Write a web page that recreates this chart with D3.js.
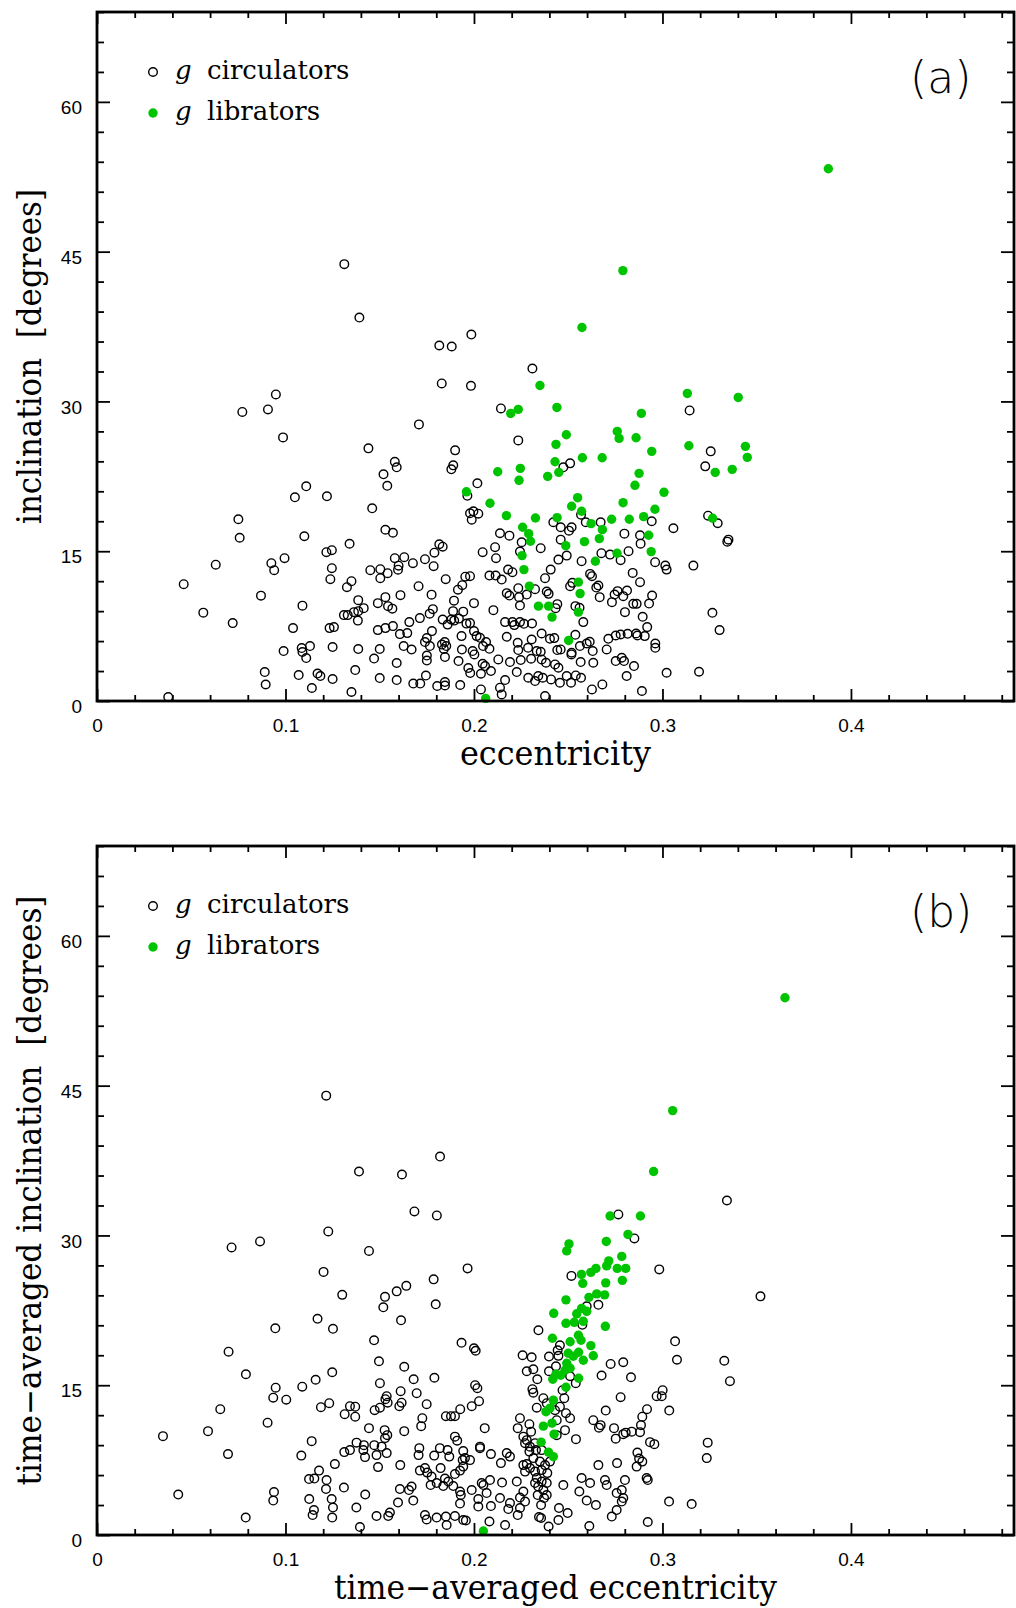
<!DOCTYPE html>
<html>
<head>
<meta charset="utf-8">
<script src="https://cdn.jsdelivr.net/npm/d3@7"></script>
<style>
  html, body { margin: 0; padding: 0; background: #fff; }
  svg { display: block; }
</style>
</head>
<body>
<svg id="chart"></svg>
<script>
// ---- data: [eccentricity, inclination] ----

// panel (a): osculating elements
var circA = [
  [0.0771,28.95],[0.0907,29.2],[0.1708,27.7],[0.0987,26.4],[0.144,25.3],[0.190,25.1],[0.158,23.95],[0.159,23.4],
  [0.189,23.6],[0.188,23.2],[0.152,22.7],[0.154,21.55],[0.1965,20.55],[0.111,21.5],[0.105,20.4],[0.122,20.5],
  [0.146,19.3],[0.075,18.2],[0.0757,16.35],[0.110,16.5],[0.134,15.75],[0.153,17.15],[0.157,16.85],[0.063,13.65],
  [0.046,11.7],[0.0564,8.85],[0.072,7.8],[0.087,10.55],[0.0925,13.8],[0.094,13.1],[0.0995,14.3],[0.109,9.55],
  [0.104,7.3],[0.099,5.0],[0.1086,5.3],[0.109,4.9],[0.113,5.5],[0.111,4.3],[0.089,2.9],[0.0895,1.65],
  [0.0378,0.4],[0.107,2.6],[0.117,2.75],[0.1185,2.5],[0.125,2.2],[0.114,1.3],[0.135,0.9],[0.137,3.1],
  [0.125,5.4],[0.1234,7.3],[0.1257,7.4],[0.1217,14.9],[0.1246,15.1],[0.1246,13.3],[0.1238,12.2],[0.1326,11.4],
  [0.135,12.0],[0.131,8.6],[0.133,8.6],[0.1363,8.9],[0.1386,9.0],[0.1415,9.3],[0.1386,10.1],[0.1384,8.05],
  [0.1386,5.2],[0.150,5.2],[0.147,4.25],[0.150,2.3],[0.159,2.1],[0.159,3.8],[0.149,9.8],[0.153,10.4],
  [0.1544,9.5],[0.1567,9.25],[0.145,13.1],[0.1503,13.2],[0.1503,12.3],[0.1542,12.8],[0.158,14.3],[0.163,14.4],
  [0.160,13.55],[0.1597,13.15],[0.1676,13.8],[0.174,14.2],[0.1786,13.5],[0.179,14.85],[0.1816,15.7],[0.1834,15.45],
  [0.161,10.6],[0.1706,11.5],[0.1775,10.65],[0.1782,9.2],[0.1765,8.75],[0.1713,8.3],[0.1657,7.9],[0.149,7.1],
  [0.153,7.3],[0.157,7.5],[0.1607,6.7],[0.1646,6.8],[0.1627,5.5],[0.1669,5.15],[0.175,6.3],[0.1777,7.0],
  [0.174,5.9],[0.1766,5.5],[0.175,4.55],[0.175,4.05],[0.1745,2.55],[0.183,5.65],[0.1845,5.9],[0.1853,5.5],
  [0.184,5.2],[0.1846,4.4],[0.185,12.2],[0.1894,10.05],[0.1889,9.0],[0.188,8.15],[0.1915,11.15],[0.1938,11.6],
  [0.1954,12.45],[0.1834,8.15],[0.186,7.65],[0.1895,8.05],[0.192,8.25],[0.1943,8.95],[0.196,7.75],[0.1934,6.5],
  [0.1936,5.15],[0.1918,4.0],[0.197,3.3],[0.1927,1.6],[0.1678,1.75],[0.1715,1.75],[0.1805,1.5],[0.1846,1.55],
  [0.1846,1.9],
  [0.1312,43.75],[0.1392,38.4],[0.1816,35.6],[0.1882,35.5],[0.1986,36.7],[0.1829,31.8],[0.0949,30.7],
  [0.231,33.3],[0.1984,31.56],[0.2143,29.3],[0.2235,26.1],[0.3144,29.1],[0.3256,25.0],[0.3227,23.5],[0.251,23.8],
  [0.2474,23.4],[0.2018,21.8],[0.1997,19.0],[0.2023,18.76],[0.1979,18.8],[0.1988,18.16],[0.2568,18.66],[0.2593,17.9],
  [0.2421,17.9],[0.246,17.4],[0.2504,17.06],[0.2518,17.4],[0.2672,17.9],[0.2943,18.0],[0.3058,17.3],[0.3242,18.56],
  [0.3293,17.8],[0.335,16.16],[0.3344,15.96],[0.2138,16.8],[0.2188,16.56],[0.246,16.16],[0.2354,15.3],[0.2253,15.9],
  [0.2244,14.96],[0.2112,15.4],[0.2117,14.3],[0.2046,14.9],[0.2492,14.56],[0.2448,14.16],[0.2798,16.76],[0.282,15.0],
  [0.2881,16.6],[0.2884,15.76],[0.2676,14.8],[0.2722,14.66],[0.2778,14.1],[0.2571,14.0],[0.2961,13.9],[0.3015,13.56],
  [0.3022,13.16],[0.3164,13.56],[0.2082,12.56],[0.2115,12.56],[0.2147,12.16],[0.2181,13.16],[0.2204,12.9],[0.1979,12.5],
  [0.2,9.8],[0.2407,13.16],[0.2377,12.3],[0.251,11.5],[0.2522,11.83],[0.2616,12.73],[0.2626,12.5],[0.266,11.56],
  [0.2649,11.36],[0.2174,10.8],[0.2188,10.56],[0.2235,11.3],[0.2239,10.4],[0.228,10.66],[0.2386,10.96],[0.2396,10.73],
  [0.2442,9.7],[0.2433,9.3],[0.2324,11.2],[0.2244,9.56],[0.2103,9.1],[0.2667,10.4],[0.2746,10.66],[0.2762,11.0],
  [0.2792,10.5],[0.2812,11.06],[0.2842,12.83],[0.2881,11.9],[0.2945,10.56],[0.2929,9.76],[0.2845,9.73],[0.2863,9.73],
  [0.2732,9.9],[0.2801,8.9],[0.2895,8.43],[0.2580,7.9],[0.2538,9.5],[0.256,9.33],[0.3265,8.83],[0.3303,7.1],
  [0.2165,7.9],[0.2204,7.9],[0.2214,7.6],[0.2244,7.9],[0.2265,7.73],[0.2308,7.76],[0.2359,6.76],[0.2174,6.43],
  [0.2232,5.83],[0.2235,5.1],[0.2306,6.16],[0.2287,5.33],[0.2354,4.93],[0.2403,6.23],[0.2426,6.3],[0.2442,5.1],
  [0.246,5.16],[0.2538,6.63],[0.2518,4.83],[0.2562,5.5],[0.2598,5.76],[0.2614,5.93],[0.263,5.0],[0.2713,6.23],
  [0.2704,5.16],[0.2752,6.56],[0.2778,6.66],[0.2815,6.73],[0.286,6.76],[0.2867,6.56],[0.2906,6.5],[0.2962,5.76],
  [0.2962,5.33],[0.2919,7.4],[0.2032,6.33],[0.2064,5.9],[0.2082,5.23],[0.2048,5.5],[0.1993,5.0],[0.1979,7.8],
  [0.2,7.0],[0.2014,6.5],[0.2002,4.66],[0.2129,4.16],[0.2191,3.9],[0.2248,4.1],[0.2303,4.23],[0.2333,5.0],
  [0.2359,4.16],[0.2382,3.83],[0.2430,3.66],[0.2448,3.33],[0.2517,4.66],[0.2566,3.9],[0.2633,3.83],[0.2752,4.0],
  [0.2784,4.33],[0.2796,4.0],[0.2849,3.5],[0.281,2.5],[0.3022,2.83],[0.3194,2.93],[0.2046,3.73],[0.209,3.0],
  [0.2037,2.73],[0.2059,3.5],[0.2165,2.1],[0.2227,2.9],[0.2288,2.33],[0.2324,2.0],[0.2341,2.5],[0.2365,2.33],
  [0.2409,2.16],[0.2377,0.5],[0.2456,1.83],[0.2492,2.5],[0.2515,1.83],[0.254,2.56],[0.2568,2.33],[0.2626,1.16],
  [0.2681,1.66],[0.2891,1.0],[0.2037,1.16],[0.2138,1.33],[0.2147,0.66],[0.198,2.8]
];

var libA = [
  [0.235,31.6],[0.3132,30.8],[0.2195,28.8],[0.2235,29.2],[0.244,29.4],[0.2888,28.8],[0.276,27.0],[0.277,26.3],
  [0.286,26.36],[0.249,26.66],[0.2435,25.7],[0.314,25.56],[0.2943,25.0],[0.2575,24.36],[0.268,24.36],[0.243,23.96],
  [0.245,22.9],[0.2391,22.5],[0.2246,23.3],[0.2239,22.1],[0.2126,22.96],[0.328,22.9],[0.2876,22.8],[0.2854,21.6],
  [0.3008,20.9],[0.2791,19.86],[0.255,20.36],[0.2518,19.5],[0.2571,19.0],[0.2085,19.8],[0.2172,18.56],[0.2326,18.33],
  [0.2441,18.36],[0.273,18.2],[0.2824,18.2],[0.29,18.46],[0.296,19.2],[0.3266,18.3],[0.2621,17.76],[0.2681,17.16],
  [0.2665,16.26],[0.2258,17.4],[0.229,16.76],[0.230,16.0],[0.2586,15.96],[0.2487,15.56],[0.2927,16.6],[0.294,14.96],
  [0.2759,14.8],[0.2644,14.0],[0.2255,14.56],[0.2265,13.16],[0.2294,11.5],[0.2554,11.9],[0.2563,10.76],[0.2554,8.9],
  [0.2342,9.5],[0.2396,9.5],[0.2414,8.4],[0.2502,6.06],[0.2062,0.26],[0.196,20.95],[0.279,43.1],[0.2573,37.4],
  [0.388,53.3],[0.3402,30.4],[0.344,25.5],[0.345,24.4],[0.337,23.2]
];

// panel (b): time-averaged elements
var circB = [
  [0.1216,44.0],[0.139,36.4],[0.1618,36.1],[0.1684,32.4],[0.182,37.9],[0.1803,32.0],[0.352,23.9],
  [0.1227,30.4],[0.0714,28.8],[0.0865,29.4],[0.1443,28.45],[0.1202,26.35],[0.1966,26.7],[0.1786,25.6],[0.1301,24.05],
  [0.1528,23.85],[0.1519,22.8],[0.159,24.4],[0.1641,24.95],[0.1797,23.1],[0.1613,21.5],[0.117,21.65],[0.1252,20.65],
  [0.0946,20.7],[0.0698,18.36],[0.0790,16.1],[0.147,19.5],[0.1934,19.25],[0.1496,17.4],[0.163,16.85],[0.179,15.75],
  [0.168,15.6],[0.1501,15.2],[0.1248,16.3],[0.116,15.55],[0.1089,14.85],[0.0948,14.75],[0.0935,13.75],[0.1004,13.55],
  [0.0654,12.6],[0.035,9.9],[0.0589,10.4],[0.0905,11.25],[0.0695,8.1],[0.0431,4.05],[0.0789,1.75],[0.0939,4.3],
  [0.0935,3.45],[0.1188,12.8],[0.1232,13.2],[0.1314,12.1],[0.1342,12.9],[0.137,12.85],[0.137,11.85],[0.1473,12.5],
  [0.1501,12.75],[0.1537,13.9],[0.1542,13.25],[0.153,13.6],[0.1604,12.9],[0.1616,13.25],[0.1611,14.4],[0.1696,14.2],
  [0.1749,13.1],[0.1726,11.7],[0.172,10.9],[0.1851,11.9],[0.1878,11.9],[0.1899,11.9],[0.1927,12.6],[0.1443,10.7],
  [0.1526,10.5],[0.1540,10.0],[0.1528,9.7],[0.1630,10.4],[0.1139,9.4],[0.1084,7.95],[0.1312,8.3],[0.1342,8.5],
  [0.1377,9.25],[0.1416,9.0],[0.1413,8.5],[0.1422,7.8],[0.1471,9.0],[0.1483,8.0],[0.151,8.85],[0.1537,8.2],
  [0.1262,7.1],[0.1491,6.8],[0.1609,7.0],[0.1710,8.7],[0.1706,8.0],[0.1789,7.95],[0.1819,8.7],[0.186,8.5],
  [0.1869,7.85],[0.1899,9.85],[0.1911,9.45],[0.1943,8.4],[0.1952,7.7],[0.194,7.5],[0.1713,6.45],[0.174,6.7],
  [0.1752,6.25],[0.1775,5.85],[0.177,5.0],[0.1802,5.2],[0.1823,6.7],[0.1846,5.65],[0.1837,4.9],[0.1864,5.35],
  [0.189,4.9],[0.1899,6.1],[0.1926,6.45],[0.1943,6.85],[0.1926,4.35],[0.193,4.0],[0.1926,3.15],[0.1178,6.45],
  [0.1125,5.6],[0.1153,5.65],[0.1218,5.5],[0.1215,4.6],[0.1310,4.75],[0.1126,3.6],[0.1151,2.5],[0.1144,2.0],
  [0.1245,3.6],[0.1252,2.75],[0.1248,1.75],[0.1376,2.75],[0.1395,0.8],[0.1423,4.05],[0.1483,1.9],[0.1545,1.9],
  [0.1554,2.25],[0.1597,3.25],[0.1607,4.6],[0.1655,4.5],[0.1669,4.85],[0.1678,3.45],[0.1740,2.0],[0.1749,1.55],
  [0.1802,1.75],[0.1851,1.85],[0.1855,1.0],[0.1899,1.9],[0.1943,1.5],[0.1957,1.45],
  [0.3342,33.5],[0.2766,32.1],[0.2851,29.7],[0.2983,26.6],[0.2517,25.95],[0.266,23.05],[0.2598,22.9],[0.2575,21.05],
  [0.2342,20.5],[0.3067,19.4],[0.3077,17.55],[0.3328,17.45],[0.3358,15.4],[0.2,18.7],[0.2009,18.45],[0.2258,18.0],
  [0.2306,17.8],[0.2398,17.87],[0.2448,17.94],[0.2456,19.0],[0.2444,18.5],[0.2280,16.4],[0.2315,16.6],[0.2398,16.4],
  [0.2435,16.9],[0.2336,15.6],[0.231,14.6],[0.2315,14.25],[0.251,15.9],[0.254,15.2],[0.2479,13.7],[0.247,14.5],
  [0.2677,15.97],[0.2725,17.13],[0.2792,17.3],[0.2833,15.8],[0.2006,15.0],[0.2018,14.7],[0.2027,13.4],[0.1988,12.9],
  [0.2368,13.7],[0.2386,13.2],[0.2333,12.75],[0.2244,11.7],[0.2232,10.7],[0.2294,11.1],[0.2303,10.35],[0.2430,12.5],
  [0.2456,12.85],[0.2488,12.2],[0.251,11.7],[0.2483,10.5],[0.2439,11.5],[0.2439,10.0],[0.2057,10.7],[0.2778,13.8],
  [0.2699,12.46],[0.2633,11.5],[0.2663,10.75],[0.2672,11.0],[0.2743,10.7],[0.2752,9.65],[0.2792,10.1],[0.2805,10.25],
  [0.2837,10.35],[0.2881,10.3],[0.2886,11.0],[0.2893,11.85],[0.2918,12.6],[0.2969,13.9],[0.2996,13.9],[0.3001,14.5],
  [0.3036,12.46],[0.2934,9.3],[0.2957,9.1],[0.3240,9.25],[0.3235,7.7],[0.2541,9.6],[0.2867,8.25],[0.2876,7.65],
  [0.2893,7.35],[0.2863,6.85],[0.2660,7.0],[0.2759,7.2],[0.2916,5.7],[0.2922,5.5],[0.2801,5.5],[0.2784,4.5],
  [0.2757,4.2],[0.2792,3.7],[0.2784,3.35],[0.2695,5.5],[0.2704,5.0],[0.2571,5.7],[0.2616,5.2],[0.2559,4.35],
  [0.2598,3.45],[0.2647,3.0],[0.2757,2.5],[0.2731,1.85],[0.2474,5.0],[0.2451,2.7],[0.2448,1.5],[0.2497,2.2],
  [0.2396,0.85],[0.2612,0.9],[0.2922,1.3],[0.3035,3.35],[0.3155,3.1],
  [0.2262,9.85],[0.228,9.5],[0.2271,9.2],[0.2297,8.85],[0.2294,8.35],[0.2324,9.2],[0.2329,8.5],[0.2359,8.5],
  [0.2315,7.7],[0.2350,7.35],[0.2377,7.0],[0.2403,7.35],[0.2262,7.0],[0.2297,6.7],[0.2324,6.35],[0.2359,6.5],
  [0.2389,6.2],[0.2333,5.7],[0.2359,5.35],[0.2386,5.2],[0.2324,5.2],[0.2341,4.85],[0.2368,4.5],[0.2386,4.0],
  [0.2338,4.0],[0.2372,3.7],[0.2356,3.0],[0.2227,5.35],[0.2244,3.75],[0.2232,2.0],[0.2244,2.7],[0.2191,3.2],
  [0.2182,2.6],[0.2149,5.25],[0.2138,3.7],[0.209,2.9],[0.2085,5.5],[0.205,5.0],[0.2067,4.2],[0.2041,5.2],
  [0.2023,3.6],[0.2023,2.85],[0.1988,4.5],[0.209,8.1],[0.2032,8.85],[0.2032,8.7],[0.1979,7.5],[0.2191,7.85],
  [0.2174,8.2],[0.2143,7.2],[0.2082,1.35],[0.2165,1.0],[0.2345,1.8],[0.2356,1.7],[0.2262,4.35],[0.2271,3.35],
  [0.2280,7.1],[0.2271,6.35]
];

var libB = [
  [0.365,53.8],[0.3054,42.5],[0.2953,36.4],[0.2722,31.95],[0.2883,31.95],[0.2817,30.1],[0.2504,29.15],[0.2492,28.45],
  [0.2702,29.4],[0.2784,27.9],[0.2715,27.45],[0.2704,26.95],[0.276,26.7],[0.2805,26.7],[0.2647,26.7],[0.262,26.3],
  [0.257,26.1],[0.2577,25.2],[0.2699,25.25],[0.2787,25.5],[0.261,23.8],[0.2651,24.15],[0.2693,24.05],[0.2488,23.55],
  [0.2423,22.2],[0.2571,22.7],[0.2598,22.4],[0.2545,22.15],[0.258,21.4],[0.2532,21.3],[0.2488,21.2],[0.2697,20.9],
  [0.2416,19.7],[0.251,19.35],[0.2554,20.0],[0.2568,19.5],[0.262,18.97],[0.2633,17.95],[0.258,17.5],[0.2555,18.3],
  [0.25,18.2],[0.2527,17.9],[0.2492,17.2],[0.251,16.7],[0.2483,16.5],[0.2435,16.1],[0.246,16.0],[0.2418,15.6],
  [0.2555,15.7],[0.2488,14.8],[0.2421,13.5],[0.2403,12.7],[0.2382,12.35],[0.2368,10.9],[0.2414,11.2],[0.2425,10.1],
  [0.2356,9.3],[0.2395,8.3],[0.2421,7.85],[0.205,0.4]
];

// axes
var xMax = 0.4865, yMax = 69;
var xTicks = [0, 0.1, 0.2, 0.3, 0.4];
var xTickLabels = ["0", "0.1", "0.2", "0.3", "0.4"];
var yTicks = [0, 15, 30, 45, 60];
var yTickLabels = ["0", "15", "30", "45", "60"];
var legendNames = ["circulators", "librators"];

// global vars
var libGreen = "#00c400";
var W = 1016, H = 1608;
var left = 97, right = 1014;

var svg = d3.select("svg#chart").attr("width", W).attr("height", H);
svg.append("rect").attr("width", W).attr("height", H).attr("fill", "#fff");

var x = d3.scaleLinear().domain([0, xMax]).range([left, right]);

// minor tick positions (every 0.02 in e, every 3 deg in i)
var xMinor = d3.range(1, 25).map((k) => k * 0.02).filter((v) => Math.abs(v * 10 - Math.round(v * 10)) > 1e-6);
var yMinor = d3.range(1, 24).map((k) => k * 3).filter((v) => v % 15 !== 0);

var panels = [
  { top: 12, bottom: 701, circ: circA, lib: libA, tag: "(a)",
    xTitle: "eccentricity", xLen: 191,
    yTitle: "inclination\u00a0\u00a0[degrees]", yLen: 335 },
  { top: 846, bottom: 1535, circ: circB, lib: libB, tag: "(b)",
    xTitle: "time\u2212averaged eccentricity", xLen: 443,
    yTitle: "time\u2212averaged inclination\u00a0\u00a0[degrees]", yLen: 590 },
];

function styleTicks(sel) {
  sel.select(".domain").remove();
  sel.selectAll(".tick line").attr("stroke", "#000").attr("stroke-width", 1.8);
  sel.selectAll(".tick text")
    .attr("fill", "#000")
    .style("font-family", "'Liberation Sans', Arial, sans-serif")
    .style("font-size", "19px");
}

function drawPanel(p) {
  var g = svg.append("g");
  var y = d3.scaleLinear().domain([0, yMax]).range([p.bottom, p.top]);

  // points: circulators first, librators on top
  g.append("g")
    .selectAll("circle")
    .data(p.circ)
    .enter()
    .append("circle")
    .attr("cx", (d) => x(d[0]))
    .attr("cy", (d) => y(d[1]))
    .attr("r", 4.3)
    .attr("fill", "none")
    .attr("stroke", "#000")
    .attr("stroke-width", 1.4);

  g.append("g")
    .selectAll("circle")
    .data(p.lib)
    .enter()
    .append("circle")
    .attr("cx", (d) => x(d[0]))
    .attr("cy", (d) => y(d[1]))
    .attr("r", 4.7)
    .attr("fill", libGreen);

  // bottom axis (labelled) + minors
  g.append("g")
    .attr("transform", `translate(0,${p.bottom})`)
    .call(d3.axisBottom(x).tickValues(xTicks).tickSize(-12).tickSizeOuter(0).tickPadding(18)
      .tickFormat((d, i) => xTickLabels[i]))
    .call(styleTicks);
  g.append("g")
    .attr("transform", `translate(0,${p.bottom})`)
    .call(d3.axisBottom(x).tickValues(xMinor).tickSize(-6).tickSizeOuter(0).tickFormat(""))
    .call(styleTicks);

  // top axis
  g.append("g")
    .attr("transform", `translate(0,${p.top})`)
    .call(d3.axisTop(x).tickValues(xTicks).tickSize(-12).tickSizeOuter(0).tickFormat(""))
    .call(styleTicks);
  g.append("g")
    .attr("transform", `translate(0,${p.top})`)
    .call(d3.axisTop(x).tickValues(xMinor).tickSize(-6).tickSizeOuter(0).tickFormat(""))
    .call(styleTicks);

  // left axis (labelled)
  var yl = g.append("g")
    .attr("transform", `translate(${left},0)`)
    .call(d3.axisLeft(y).tickValues(yTicks).tickSize(-13).tickSizeOuter(0).tickPadding(15)
      .tickFormat((d, i) => yTickLabels[i]))
    .call(styleTicks);
  yl.selectAll(".tick text").attr("dy", "0.62em");
  g.append("g")
    .attr("transform", `translate(${left},0)`)
    .call(d3.axisLeft(y).tickValues(yMinor).tickSize(-7).tickSizeOuter(0).tickFormat(""))
    .call(styleTicks);

  // right axis
  g.append("g")
    .attr("transform", `translate(${right},0)`)
    .call(d3.axisRight(y).tickValues(yTicks).tickSize(-13).tickSizeOuter(0).tickFormat(""))
    .call(styleTicks);
  g.append("g")
    .attr("transform", `translate(${right},0)`)
    .call(d3.axisRight(y).tickValues(yMinor).tickSize(-7).tickSizeOuter(0).tickFormat(""))
    .call(styleTicks);

  // frame
  g.append("rect")
    .attr("x", left)
    .attr("y", p.top)
    .attr("width", right - left)
    .attr("height", p.bottom - p.top)
    .attr("fill", "none")
    .attr("stroke", "#000")
    .attr("stroke-width", 2.8);

  // axis titles
  g.append("text")
    .attr("x", (left + right) / 2)
    .attr("y", p.bottom + 64)
    .attr("text-anchor", "middle")
    .attr("textLength", p.xLen)
    .attr("lengthAdjust", "spacingAndGlyphs")
    .style("font-family", "'DejaVu Serif', serif")
    .style("font-size", "33px")
    .text(p.xTitle);

  g.append("text")
    .attr("transform", `translate(41,${(p.top + p.bottom) / 2}) rotate(-90)`)
    .attr("text-anchor", "middle")
    .attr("textLength", p.yLen)
    .attr("lengthAdjust", "spacingAndGlyphs")
    .style("font-family", "'DejaVu Serif', serif")
    .style("font-size", "33px")
    .text(p.yTitle);

  // panel tag
  g.append("text")
    .attr("x", 910)
    .attr("y", p.top + 81)
    .style("font-family", "'DejaVu Sans', sans-serif")
    .style("font-weight", 200)
    .style("font-size", "44px")
    .text(p.tag);

  // legend
  var leg = g.append("g").attr("transform", `translate(0,${p.top})`);
  legendNames.forEach(function (name, i) {
    var cy = 60 + i * 41;
    if (i === 0) {
      leg.append("circle").attr("cx", 153).attr("cy", cy).attr("r", 4.3)
        .attr("fill", "none").attr("stroke", "#000").attr("stroke-width", 1.4);
    } else {
      leg.append("circle").attr("cx", 153).attr("cy", cy).attr("r", 4.7).attr("fill", libGreen);
    }
    leg.append("text")
      .attr("x", 175)
      .attr("y", cy + 7)
      .style("font-family", "'DejaVu Serif', serif")
      .style("font-style", "italic")
      .style("font-size", "26px")
      .text("g");
    leg.append("text")
      .attr("x", 207)
      .attr("y", cy + 7)
      .style("font-family", "'DejaVu Serif', serif")
      .style("font-size", "26px")
      .text(name);
  });
}

panels.forEach(drawPanel);
</script>
</body>
</html>
